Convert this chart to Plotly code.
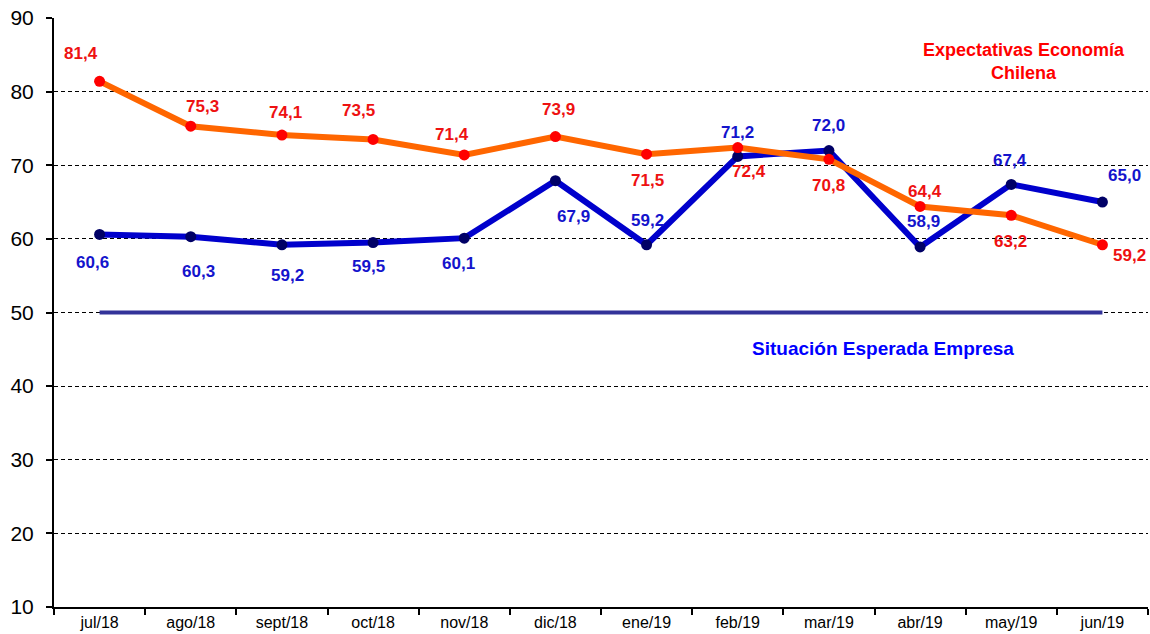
import plotly.graph_objects as go

meses = ["jul/18", "ago/18", "sept/18", "oct/18", "nov/18", "dic/18",
         "ene/19", "feb/19", "mar/19", "abr/19", "may/19", "jun/19"]
economia_chilena = [81.4, 75.3, 74.1, 73.5, 71.4, 73.9, 71.5, 72.4, 70.8, 64.4, 63.2, 59.2]
situacion_empresa = [60.6, 60.3, 59.2, 59.5, 60.1, 67.9, 59.2, 71.2, 72.0, 58.9, 67.4, 65.0]
umbral_neutral = [50, 50, 50, 50, 50, 50, 50, 50, 50, 50, 50, 50]
y_ticks = [10, 20, 30, 40, 50, 60, 70, 80, 90]

# label offsets (pixels): (xshift, yshift)
off_eco = [(-19, 28), (12, 20), (4, 23), (-15, 29), (-12, 20), (3, 27),
           (1, -26), (11, -24), (0, -26), (5, 15), (-1, -26), (27, -11)]
off_emp = [(-7, -28), (8, -35), (6, -31), (-5, -24), (-6, -25), (18, -36),
           (1, 24), (0, 24), (0, 25), (3, 25), (-1, 24), (22, 27)]

FONT = "Liberation Sans, Arial, sans-serif"
RED = "#EE1111"
BLUE_TXT = "#1414CC"

fig = go.Figure()
fig.add_trace(go.Scatter(x=meses, y=umbral_neutral, mode="lines",
                         line=dict(color="#333399", width=4), hoverinfo="skip"))
fig.add_trace(go.Scatter(x=meses, y=situacion_empresa, mode="lines+markers",
                         line=dict(color="#0000CC", width=6),
                         marker=dict(color="#000066", size=11)))
fig.add_trace(go.Scatter(x=meses, y=economia_chilena, mode="lines+markers",
                         line=dict(color="#FF6600", width=6),
                         marker=dict(color="#FF0000", size=11)))

def fmt(v):
    return f"{v:.1f}".replace(".", ",")

for m, v, (dx, dy) in zip(meses, economia_chilena, off_eco):
    fig.add_annotation(x=m, y=v, text=fmt(v), showarrow=False, xshift=dx, yshift=dy,
                       font=dict(family=FONT, size=17, color=RED, weight="bold"))
for m, v, (dx, dy) in zip(meses, situacion_empresa, off_emp):
    fig.add_annotation(x=m, y=v, text=fmt(v), showarrow=False, xshift=dx, yshift=dy,
                       font=dict(family=FONT, size=17, color=BLUE_TXT, weight="bold"))

fig.add_annotation(xref="paper", yref="paper", x=(1024 - 54) / 1094, y=(607 - 61) / 589,
                   text="Expectativas Economía<br>Chilena", showarrow=False,
                   align="center", xanchor="center", yanchor="middle",
                   font=dict(family=FONT, size=18, color="#FF0000", weight="bold"))
fig.add_annotation(xref="paper", yref="paper", x=(883 - 54) / 1094, y=(607 - 348) / 589,
                   text="Situación Esperada Empresa", showarrow=False,
                   xanchor="center", yanchor="middle",
                   font=dict(family=FONT, size=19, color="#0000FF", weight="bold"))

fig.update_layout(
    width=1150, height=634,
    margin=dict(l=54, r=2, t=18, b=27, autoexpand=False),
    paper_bgcolor="white", plot_bgcolor="white",
    showlegend=False,
    font=dict(family=FONT, color="black"),
)
fig.update_xaxes(type="category", categoryorder="array", categoryarray=meses,
                 range=[-0.5, 11.5], showgrid=False, zeroline=False, automargin=False,
                 showline=True, linecolor="black", linewidth=2,
                 ticks="outside", tickson="boundaries", ticklen=6, tickwidth=2,
                 tickcolor="black", tickfont=dict(family=FONT, size=16, color="black"))
fig.update_yaxes(range=[10, 90], tickvals=y_ticks, showgrid=True, gridcolor="black",
                 gridwidth=1, griddash="4px,3px", zeroline=False, automargin=False,
                 showline=True, linecolor="black", linewidth=2,
                 ticks="outside", ticklen=6, tickwidth=2, tickcolor="black",
                 ticklabelstandoff=8,
                 tickfont=dict(family=FONT, size=21, color="black"))

fig.write_html("out.html", config={"displayModeBar": False},
               post_script="document.body.style.margin='0';document.body.style.overflow='hidden';")
